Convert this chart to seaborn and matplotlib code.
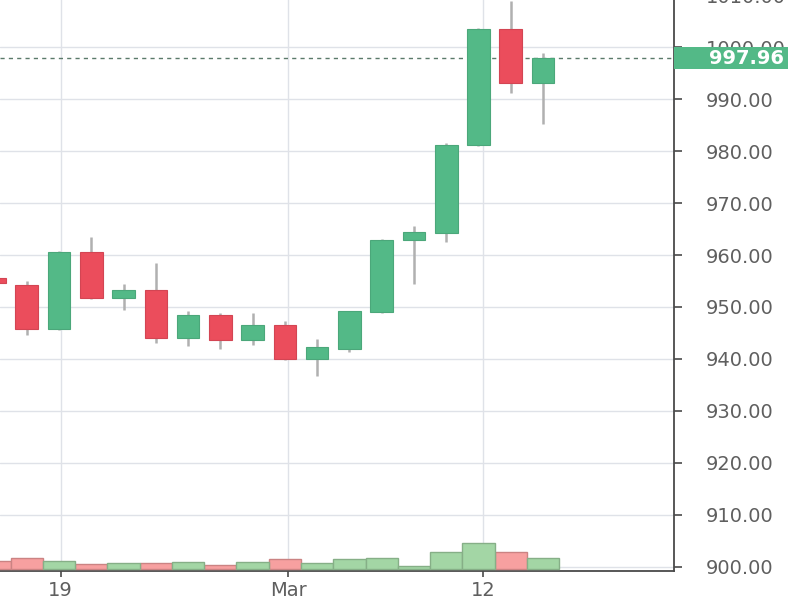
import numpy as np
import pandas as pd
import matplotlib
matplotlib.use('Agg')
import matplotlib.pyplot as plt
import matplotlib.patches as mpatches
import seaborn as sns

# daily candles
opens  = [955.5, 954.3, 945.7, 960.5, 951.8, 953.2, 944.0, 948.4, 943.6, 946.6,
          939.9, 941.9, 949.0, 962.9, 964.3, 981.2, 1003.6, 993.1]
closes = [954.6, 945.7, 960.5, 951.8, 953.2, 944.0, 948.4, 943.6, 946.6, 939.9,
          942.2, 949.2, 963.0, 964.4, 981.3, 1003.6, 993.1, 997.96]
highs  = [955.7, 955.0, 960.7, 963.4, 954.5, 958.5, 949.2, 948.9, 948.9, 947.3,
          943.9, 949.3, 963.1, 965.6, 981.5, 1003.8, 1009.0, 998.9]
lows   = [954.4, 944.6, 945.5, 951.6, 949.4, 943.1, 942.4, 942.0, 942.6, 939.8,
          936.8, 941.3, 948.9, 954.5, 962.5, 981.0, 991.3, 985.2]
volumes = [8.0, 10.2, 7.2, 4.2, 5.5, 5.5, 7.0, 4.0, 7.0, 9.2,
           5.7, 9.4, 10.7, 3.0, 16.4, 25.4, 17.0, 10.7]

tick_pos = [2.05, 9.1, 15.15]
tick_labels = ['19', 'Mar', '12']
y_ticks = list(range(900, 1020, 10))
last_price = 997.96

green = '#53b987'
red = '#eb4d5c'
vol_green = '#a3d6a5'
vol_red = '#f7a0a0'

df = pd.DataFrame({'open': opens, 'close': closes, 'high': highs, 'low': lows, 'volume': volumes})
df['idx'] = np.arange(len(df))
df['dir'] = np.where(df['close'] >= df['open'], 'up', 'down')

sns.set_theme(style='whitegrid')
plt.rcParams['font.family'] = ['DejaVu Sans']

fig = plt.figure(figsize=(8, 6), dpi=100)
ax = fig.add_axes([0.0, 0.0483, 0.8425, 0.9634])
ax2 = ax.twinx()

# volume at the bottom
sns.barplot(data=df, x='idx', y='volume', hue='dir', dodge=False, width=1.0,
            palette={'up': vol_green, 'down': vol_red}, saturation=1, legend=False,
            ax=ax2, linewidth=1.0)
for p in ax2.patches:
    fc = np.array(p.get_facecolor()[:3])
    p.set_edgecolor(tuple(fc * 0.82))
ax2.set_ylim(-2.5, 575.5)
ax2.set_yticks([])
ax2.set_ylabel('')
ax2.set_xlabel('')
ax2.grid(False)
for s in ax2.spines.values():
    s.set_visible(False)

# candles
colors = [green if d == 'up' else red for d in df['dir']]
ax.vlines(df['idx'], df['low'], df['high'], color='#b0b0b0', lw=1.8, zorder=3)
body_bottom = np.minimum(df['open'], df['close'])
body_height = np.abs(df['close'] - df['open'])
ax.bar(df['idx'], body_height, bottom=body_bottom, width=0.7, color=colors,
       edgecolor=[tuple(np.array(matplotlib.colors.to_rgb(c)) * 0.9) for c in colors],
       linewidth=0.8, zorder=4)

# last price line and label
ax.axhline(last_price, color='#5b7a6a', lw=1.0, ls=(0, (3, 3)), zorder=2)
trans = ax.get_yaxis_transform()
ax.add_patch(mpatches.Rectangle((1.0, last_price - 2.2), 0.169, 4.4, transform=trans,
                                facecolor=green, edgecolor='none', clip_on=False, zorder=10))
ax.text(1.052, last_price, f'{last_price:.2f}', transform=trans, ha='left', va='center',
        color='white', fontsize=14, fontweight='bold', clip_on=False, zorder=11)

ax.set_xlim(0.17, 21.06)
ax.set_ylim(899.13, 1010.5)
ax.set_xticks(tick_pos)
ax.set_xticklabels(tick_labels)
ax.set_yticks(y_ticks)
ax.set_yticklabels([f'{v:.2f}' for v in y_ticks])
ax.yaxis.tick_right()
ax.set_xlabel('')
ax.set_ylabel('')

ax.grid(True, color='#dfe2e8', lw=1.0)
ax.set_facecolor('white')
for side in ['left', 'top']:
    ax.spines[side].set_visible(False)
for side in ['right', 'bottom']:
    ax.spines[side].set_visible(True)
    ax.spines[side].set_color('#4a4a4a')
    ax.spines[side].set_linewidth(1.3)
ax.tick_params(axis='y', which='both', right=True, left=False, length=6, width=1.2,
               color='#4a4a4a', pad=17, labelsize=14, labelcolor='#5f5f5f')
ax.tick_params(axis='x', which='both', bottom=True, length=4, width=1.2,
               color='#4a4a4a', pad=3, labelsize=14, labelcolor='#5f5f5f')

fig.savefig('out.png', dpi=100, facecolor='white')
